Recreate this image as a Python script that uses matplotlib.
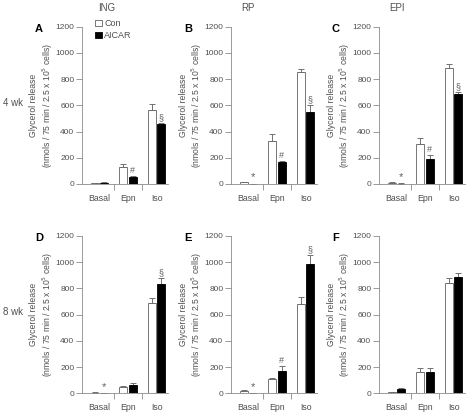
import numpy as np
import matplotlib
matplotlib.use("Agg")
import matplotlib.pyplot as plt

plt.rcParams['font.family'] = ['Liberation Sans', 'DejaVu Sans']

# ── Data (glycerol release, nmols / 75 min / 2.5 x 10^5 cells) ─────────────
categories = ['Basal', 'Epn', 'Iso']
col_titles = ['ING', 'RP', 'EPI']
row_titles = ['4 wk', '8 wk']
panel_letters = ['A', 'B', 'C', 'D', 'E', 'F']

con_mean = [
    [5, 130, 565],     # A  ING 4 wk
    [13, 330, 851],    # B  RP 4 wk
    [10, 302, 886],    # C  EPI 4 wk
    [5, 46, 686],      # D  ING 8 wk
    [18, 109, 681],    # E  RP 8 wk
    [8, 163, 838],     # F  EPI 8 wk
]
con_err = [
    [3, 20, 43],
    [5, 48, 30],
    [5, 46, 28],
    [3, 7, 43],
    [7, 5, 51],
    [5, 27, 38],
]
aicar_mean = [
    [10, 53, 460],
    [2, 165, 546],
    [3, 190, 688],
    [1, 66, 831],
    [1, 173, 983],
    [30, 163, 889],
]
aicar_err = [
    [3, 8, 7],
    [1, 10, 53],
    [2, 31, 15],
    [1, 10, 48],
    [1, 38, 71],
    [8, 27, 28],
]
# significance marks on AICAR bars: (category index, symbol)
marks = [
    [(1, '#'), (2, '§')],
    [(0, '*'), (1, '#'), (2, '§')],
    [(0, '*'), (1, '#'), (2, '§')],
    [(0, '*'), (2, '§')],
    [(0, '*'), (1, '#'), (2, '§')],
    [],
]

# ── Layout ───────────────────────────────────────────────────────────────────
W, H = 468, 412
fig = plt.figure(figsize=(W / 100, H / 100), dpi=100)

lefts = [82, 231, 379]
tops = [26.7, 236]
ax_w, ax_h = 86, 157.3

grey = '#505050'
spine_grey = '#8a8a8a'
fs = 6.0
x = np.arange(len(categories))
bw = 0.29
off = 0.165

for i in range(6):
    r, c = divmod(i, 3)
    ax = fig.add_axes([lefts[c] / W, 1 - (tops[r] + ax_h) / H, ax_w / W, ax_h / H])

    b1 = ax.bar(x - off, con_mean[i], bw, color='white', edgecolor='#606060',
                linewidth=0.6, label='Con', zorder=2)
    b2 = ax.bar(x + off, aicar_mean[i], bw, color='black', edgecolor='black',
                linewidth=0.6, label='AICAR', zorder=2)
    ax.errorbar(x - off, con_mean[i], yerr=[np.zeros(3), con_err[i]], fmt='none',
                ecolor='#707070', elinewidth=0.7, capsize=2.2, capthick=0.7, zorder=1)
    ax.errorbar(x + off, aicar_mean[i], yerr=[np.zeros(3), aicar_err[i]], fmt='none',
                ecolor='#707070', elinewidth=0.7, capsize=2.2, capthick=0.7, zorder=1)

    for k, sym in marks[i]:
        top = aicar_mean[i][k] + aicar_err[i][k]
        ax.text(x[k] + off, top + 8, sym, ha='center', va='bottom',
                fontsize=6.5 if sym != '*' else 8, color='#606060')

    ax.set_xlim(-0.61, 2.4)
    ax.set_ylim(0, 1200)
    ax.set_yticks(np.arange(0, 1201, 200))
    ax.set_xticks(x)
    ax.set_xticklabels(categories)
    ax.set_xticks([0.5, 1.5], minor=True)
    ax.tick_params(axis='x', which='major', length=0, pad=7, labelsize=fs + 0.3,
                   labelcolor=grey)
    ax.tick_params(axis='x', which='minor', length=4, width=0.6, color=spine_grey,
                   direction='out')
    ax.tick_params(axis='y', length=4, width=0.6, color=spine_grey, pad=1.5,
                   labelsize=fs, labelcolor=grey)
    for s in ['top', 'right']:
        ax.spines[s].set_visible(False)
    for s in ['left', 'bottom']:
        ax.spines[s].set_color(spine_grey)
        ax.spines[s].set_linewidth(0.6)

    # y label (two lines)
    cy = tops[r] + ax_h / 2
    fig.text((lefts[c] - 48) / W, 1 - cy / H, 'Glycerol release', rotation=90,
             ha='center', va='center', fontsize=6.2, color=grey)
    fig.text((lefts[c] - 34) / W, 1 - cy / H,
             '(nmols / 75 min / 2.5 x 10$^{5}$ cells)', rotation=90,
             ha='center', va='center', fontsize=6.2, color=grey)

    fig.text((lefts[c] - 43) / W, 1 - (tops[r] + 2) / H, panel_letters[i],
             ha='center', va='center', fontsize=8, fontweight='bold', color='black')

    if i == 0:
        ax.legend(handles=[b1, b2], loc='upper left', bbox_to_anchor=(0.08, 1.09),
                  frameon=False, fontsize=6.5, handlelength=0.7, handleheight=0.7,
                  handletextpad=0.3, labelspacing=0.35, borderpad=0.2,
                  labelcolor=grey)

for c, (t, px) in enumerate(zip(col_titles, [107, 248, 397])):
    fig.text(px / W, 1 - 8 / H, t, ha='center', va='center', fontsize=7, color=grey)

for r, (t, py) in enumerate(zip(row_titles, [103, 312])):
    fig.text(13 / W, 1 - py / H, t, ha='center', va='center', fontsize=7, color=grey)

fig.savefig('out.png', dpi=100)
